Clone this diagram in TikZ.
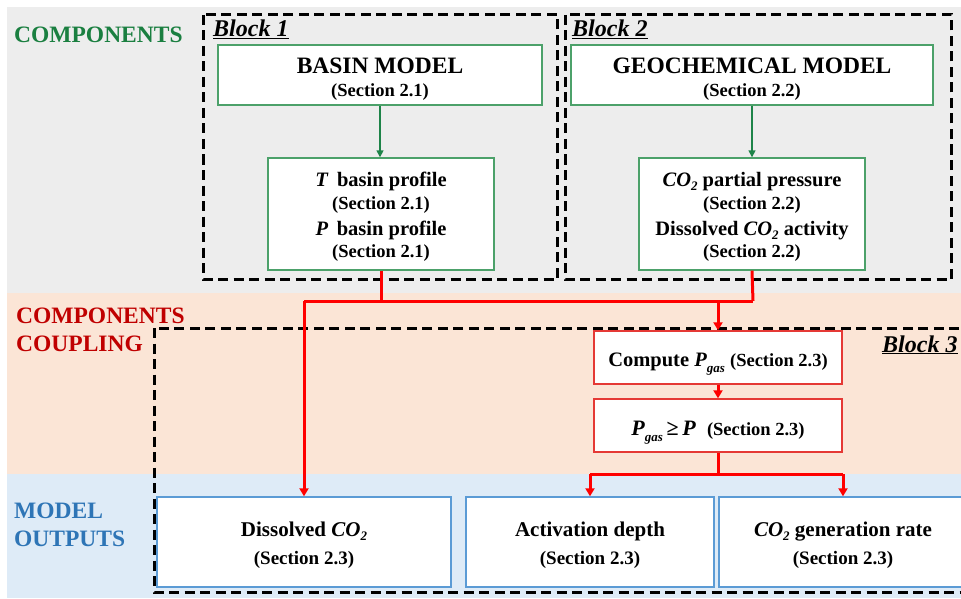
\documentclass[tikz,border=0pt]{standalone}
\usepackage{fontspec}
\setmainfont{Liberation Serif}
\usetikzlibrary{arrows.meta}
\definecolor{bggrey}{HTML}{EDEDED}
\definecolor{bgorange}{HTML}{FBE5D6}
\definecolor{bgblue}{HTML}{DEEBF7}
\definecolor{txtgreen}{HTML}{1A7F40}
\definecolor{txtred}{HTML}{C00000}
\definecolor{txtblue}{HTML}{2E75B6}
\definecolor{boxgreen}{HTML}{4CA16A}
\definecolor{boxred}{HTML}{E53935}
\definecolor{boxblue}{HTML}{5B9BD5}
\definecolor{arrgreen}{HTML}{1E8449}
\definecolor{arrred}{HTML}{FF0000}
\newcommand{\fs}[1]{\fontsize{#1}{#1}\selectfont}
\newcommand{\lowsub}[2][-0.2em]{\raisebox{#1}{\fs{13}\textit{#2}}}
\newcommand{\cotwo}{\textit{CO}\lowsub{2}}
\tikzset{
  gbox/.style={draw=boxgreen, line width=1.4pt, fill=white, inner sep=0pt},
  rbox/.style={draw=boxred, line width=1.4pt, fill=white, inner sep=0pt},
  bbox/.style={draw=boxblue, line width=1.4pt, fill=white, inner sep=0pt},
  hline/.style={anchor=base, inner sep=0pt, font=\fs{23.5}\bfseries},
  mline/.style={anchor=base, inner sep=0pt, font=\fs{20.5}\bfseries},
  oline/.style={anchor=base, inner sep=0pt, font=\fs{21}\bfseries},
  sline/.style={anchor=base, inner sep=0pt, font=\fs{18.5}\bfseries},
  soline/.style={anchor=base, inner sep=0pt, font=\fs{19}\bfseries},
  blockframe/.style={draw=black, line width=3pt, dash pattern=on 10pt off 5.5pt},
  garrow/.style={draw=arrgreen, line width=1.5pt, -{Triangle[length=7pt,width=7pt]}},
  rline/.style={draw=arrred, line width=3pt},
  rarrow/.style={draw=arrred, line width=3pt, -{Triangle[length=8pt,width=9pt]}},
  sidelabel/.style={font=\fs{23.5}\bfseries, anchor=base west, inner sep=0pt},
  blocklabel/.style={font=\fs{24}\bfseries\itshape, anchor=base west, inner sep=0pt},
}
\begin{document}
\begin{tikzpicture}[x=1pt,y=-1pt]
\useasboundingbox (0,0) rectangle (961,599);
\clip (0,0) rectangle (961,599);
\fill[white] (0,0) rectangle (961,599);
% bands
\fill[bggrey] (7,7) rectangle (961,293);
\fill[bgorange] (7,293) rectangle (961,474);
\fill[bgblue] (7,474) rectangle (961,598);
% side labels
\node[sidelabel, text=txtgreen] (lcomp) at (14,43) {COMPONENTS};
\node[sidelabel, text=txtred] (lcoup1) at (16,323) {COMPONENTS};
\node[sidelabel, text=txtred] (lcoup2) at (16,351.5) {COUPLING};
\node[sidelabel, text=txtblue] (lout1) at (14,518) {MODEL};
\node[sidelabel, text=txtblue] (lout2) at (14,546.5) {OUTPUTS};
% block frames
\draw[blockframe] (203,15) rectangle (557.5,279);
\draw[blockframe] (565,15) rectangle (951.5,279);
\draw[blockframe] (154,328) rectangle (990,592);
\node[blocklabel] (b1) at (213,37) {\underline{Block 1}};
\node[blocklabel] (b2) at (572,37) {\underline{Block 2}};
\node[blocklabel] (b3) at (882,352) {\underline{Block 3}};
% boxes (frames)
\node[gbox, minimum width=324pt, minimum height=60pt] (basin) at (380,75) {};
\node[gbox, minimum width=226pt, minimum height=112pt] (tprof) at (381,214) {};
\node[gbox, minimum width=362pt, minimum height=60pt] (geo) at (752,75) {};
\node[gbox, minimum width=226pt, minimum height=112pt] (co2p) at (752,214) {};
\node[rbox, minimum width=248pt, minimum height=53pt] (compute) at (718,357.5) {};
\node[rbox, minimum width=248pt, minimum height=53pt] (pgas) at (718,425.5) {};
\node[bbox, minimum width=294pt, minimum height=90pt] (dis) at (304,542) {};
\node[bbox, minimum width=248pt, minimum height=90pt] (act) at (590,542) {};
\node[bbox, minimum width=248pt, minimum height=90pt] (gen) at (843,542) {};
% box texts
\node[hline] (basin-t1) at (380,73.3) {BASIN MODEL};
\node[sline] (basin-t2) at (380,96.7) {(Section 2.1)};
\node[mline] (tprof-t1) at (381,186.7) {\textit{T}\, basin profile};
\node[sline] (tprof-t2) at (381,209.5) {(Section 2.1)};
\node[mline] (tprof-t3) at (381,235) {\textit{P}\, basin profile};
\node[sline] (tprof-t4) at (381,257.7) {(Section 2.1)};
\node[hline] (geo-t1) at (752,73.3) {GEOCHEMICAL MODEL};
\node[sline] (geo-t2) at (752,96.7) {(Section 2.2)};
\node[mline] (co2p-t1) at (752,186.7) {\cotwo{} partial pressure};
\node[sline] (co2p-t2) at (752,209.5) {(Section 2.2)};
\node[mline] (co2p-t3) at (752,235) {Dissolved \cotwo{} activity};
\node[sline] (co2p-t4) at (752,257.7) {(Section 2.2)};
\node[mline] (compute-t) at (718,366.7)
  {Compute \textit{P}\lowsub[-0.3em]{gas} \fs{18.5}(Section 2.3)};
\node[mline] (pgas-t) at (718,435)
  {\fs{22}\textit{P}\lowsub[-0.3em]{gas}\,≥\,\textit{P}\enspace\fs{18.5}(Section 2.3)};
\node[oline] (dis-t1) at (304,536.7) {Dissolved \cotwo};
\node[soline] (dis-t2) at (304,564.3) {(Section 2.3)};
\node[oline] (act-t1) at (590,536.7) {Activation depth};
\node[soline] (act-t2) at (590,564.3) {(Section 2.3)};
\node[oline] (gen-t1) at (843,536.7) {\cotwo{} generation rate};
\node[soline] (gen-t2) at (843,564.3) {(Section 2.3)};
% green arrows
\draw[garrow] (basin.south) -- (basin.south |- tprof.north);
\draw[garrow] (geo.south) -- (geo.south |- co2p.north);
% red connectors
\coordinate (j1) at (381,301);
\coordinate (j2) at (753,301);
\coordinate (j3) at (718,474);
\draw[rline] (tprof.south) -- (j1);
\draw[rline] (co2p.south) -- (j2);
\draw[rline] (dis.north |- j1) -- (j2);
\draw[rarrow] (dis.north |- j1) -- (dis.north);
\draw[rarrow] (compute.north |- j1) -- (compute.north);
\draw[rarrow] (compute.south) -- (pgas.north);
\draw[rline] (pgas.south) -- (j3);
\draw[rline] (act.north |- j3) -- (gen.north |- j3);
\draw[rarrow] (act.north |- j3) -- (act.north);
\draw[rarrow] (gen.north |- j3) -- (gen.north);
\end{tikzpicture}
\end{document}
